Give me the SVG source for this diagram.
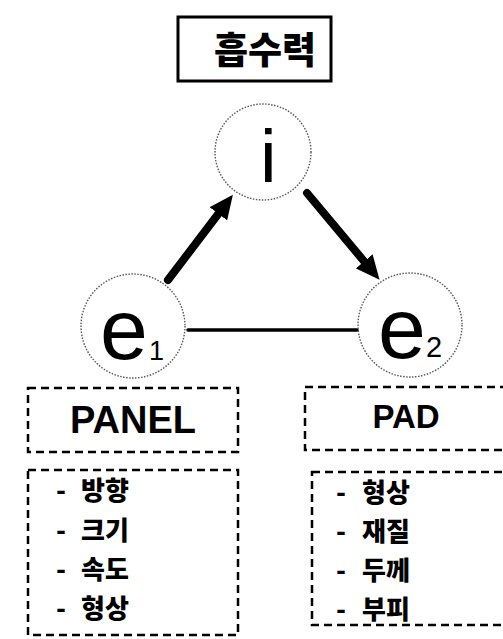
<svg xmlns="http://www.w3.org/2000/svg" width="503" height="639" viewBox="0 0 503 639">
<style>
.circ{fill:none;stroke:#555;stroke-width:1.4;stroke-dasharray:1.5 1.5}
.dash{fill:none;stroke:#000;stroke-width:2.5;stroke-dasharray:8 5}
.kr{font-family:"Noto Sans CJK KR",sans-serif;font-weight:900;fill:#000}
.lat{font-family:"Liberation Sans",Arial,sans-serif;fill:#000}
.conn{stroke:#000;fill:none;stroke-linecap:round}
</style>
<defs>
<marker id="ah" markerUnits="userSpaceOnUse" viewBox="0 0 24 22" refX="6" refY="11" markerWidth="24" markerHeight="22" orient="auto">
<path d="M0,0 L24,11 L0,22 Z" fill="#000"/>
</marker>
</defs>
<rect width="503" height="639" fill="#fff"/>
<g id="title">
<rect x="178" y="17" width="153" height="64" fill="none" stroke="#000" stroke-width="3"/>
<text class="kr" x="265" y="64" font-size="37" text-anchor="middle">흡수력</text>
</g>
<g id="connectors">
<line class="conn" x1="168" y1="280" x2="222" y2="209" stroke-width="8" marker-end="url(#ah)"/>
<line class="conn" x1="307" y1="193" x2="368" y2="266" stroke-width="8" marker-end="url(#ah)"/>
<line class="conn" x1="188" y1="330" x2="357" y2="330" stroke-width="3.5" stroke-linecap="butt"/>
</g>
<g id="node-i">
<circle class="circ" cx="263" cy="152" r="48"/>
<text class="lat" x="260" y="182" font-size="75">i</text>
</g>
<g id="node-e1">
<circle class="circ" cx="133" cy="326" r="52"/>
<text class="lat" x="100" y="359" font-size="86">e</text>
<text class="lat" x="149" y="360" font-size="27">1</text>
</g>
<g id="node-e2">
<circle class="circ" cx="410" cy="325" r="52"/>
<text class="lat" x="378" y="358" font-size="86">e</text>
<text class="lat" x="426" y="357" font-size="29">2</text>
</g>
<g id="panel">
<rect class="dash" x="28" y="388" width="210" height="64"/>
<text class="lat" x="133" y="433" font-size="38" font-weight="bold" text-anchor="middle">PANEL</text>
</g>
<g id="pad">
<rect class="dash" x="305" y="387" width="210" height="63"/>
<text class="lat" x="406" y="428" font-size="33" font-weight="bold" text-anchor="middle">PAD</text>
</g>
<g id="panel-list">
<rect class="dash" x="28" y="470" width="210" height="165"/>
<text class="kr" font-size="26"><tspan x="56" y="500">-</tspan><tspan x="81">방향</tspan><tspan x="56" y="540">-</tspan><tspan x="81">크기</tspan><tspan x="56" y="579">-</tspan><tspan x="81">속도</tspan><tspan x="56" y="618">-</tspan><tspan x="81">형상</tspan></text>
</g>
<g id="pad-list">
<rect class="dash" x="312" y="472" width="200" height="153"/>
<text class="kr" font-size="26"><tspan x="336" y="502">-</tspan><tspan x="362">형상</tspan><tspan x="336" y="541">-</tspan><tspan x="362">재질</tspan><tspan x="336" y="580">-</tspan><tspan x="362">두께</tspan><tspan x="336" y="619">-</tspan><tspan x="362">부피</tspan></text>
</g>
</svg>
